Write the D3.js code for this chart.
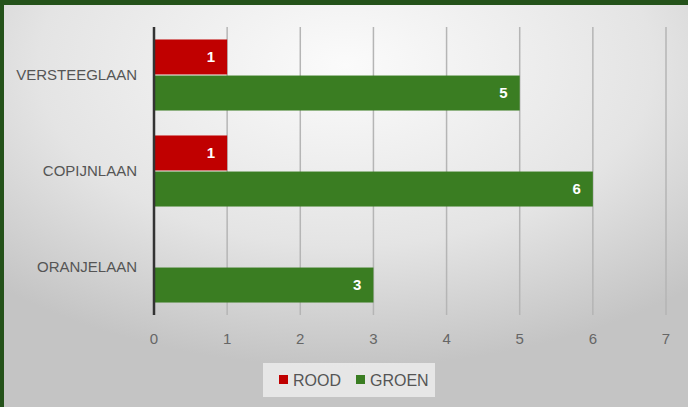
<!DOCTYPE html>
<html>
<head>
<meta charset="utf-8">
<script src="https://cdn.jsdelivr.net/npm/d3@7"></script>
<style>
  html, body { margin: 0; padding: 0; background: #24521a; }
  svg { display: block; }
  text { font-family: "Liberation Sans", Arial, sans-serif; }
</style>
</head>
<body>
<svg width="688" height="407"></svg>
<script>
// data
var streets = ["VERSTEEGLAAN", "COPIJNLAAN", "ORANJELAAN"];
var series = ["ROOD", "GROEN"];
var rood = [1, 1, 0];
var groen = [5, 6, 3];
var xTicks = [0, 1, 2, 3, 4, 5, 6, 7];
var colors = ["#c00000", "#3a7d22"];

var svg = d3.select("svg");
var W = 688, H = 407;

// background with soft vignette
var defs = svg.append("defs");
var grad = defs.append("radialGradient")
    .attr("id", "bg")
    .attr("cx", "50%").attr("cy", "15%").attr("r", "75%");
grad.append("stop").attr("offset", "0%").attr("stop-color", "#fbfbfb");
grad.append("stop").attr("offset", "60%").attr("stop-color", "#e4e4e4");
grad.append("stop").attr("offset", "100%").attr("stop-color", "#c4c4c4");

svg.append("rect").attr("width", W).attr("height", H).attr("fill", "#24521a");
svg.append("rect")
    .attr("x", 4).attr("y", 5)
    .attr("width", W - 4).attr("height", H - 5)
    .attr("fill", "url(#bg)");

var margin = {top: 27, right: 22, bottom: 92, left: 154};
var width = 666 - margin.left;
var height = 315 - margin.top;

var x = d3.scaleLinear().domain([0, 7]).range([0, width]);
var y0 = d3.scaleBand().domain(streets).range([0, height]).paddingInner(0.26).paddingOuter(0.13);
var y1 = d3.scaleBand().domain(series).range([0, y0.bandwidth()]).paddingInner(0.03);

var g = svg.append("g").attr("transform", "translate(" + margin.left + "," + margin.top + ")");

// gridlines
g.selectAll(".grid")
    .data(xTicks.slice(1))
    .enter().append("line")
    .attr("x1", function(d) { return x(d); })
    .attr("x2", function(d) { return x(d); })
    .attr("y1", 0)
    .attr("y2", height)
    .attr("stroke", "#b5b5b5")
    .attr("stroke-width", 1.5);

// bars
var rows = streets.map(function(s, i) {
    return {street: s, values: [rood[i], groen[i]]};
});

var group = g.selectAll(".grp")
    .data(rows)
    .enter().append("g")
    .attr("transform", function(d) { return "translate(0," + y0(d.street) + ")"; });

var bar = group.selectAll(".bar")
    .data(function(d) {
        return d.values.map(function(v, j) { return {key: series[j], value: v, color: colors[j]}; })
            .filter(function(e) { return e.value > 0; });
    })
    .enter().append("g");

bar.append("rect")
    .attr("x", 0)
    .attr("y", function(d) { return y1(d.key); })
    .attr("width", function(d) { return x(d.value); })
    .attr("height", y1.bandwidth())
    .attr("fill", function(d) { return d.color; });

bar.append("text")
    .attr("x", function(d) { return x(d.value) - 12; })
    .attr("y", function(d) { return y1(d.key) + y1.bandwidth() / 2; })
    .attr("dy", "0.36em")
    .attr("text-anchor", "end")
    .attr("fill", "#fff")
    .style("font-weight", "bold")
    .style("font-size", "15px")
    .text(function(d) { return d.value; });

// axis line at zero
g.append("line")
    .attr("x1", 0).attr("x2", 0)
    .attr("y1", 0).attr("y2", height)
    .attr("stroke", "#333")
    .attr("stroke-width", 2.5);

// x tick labels
g.selectAll(".xlab")
    .data(xTicks)
    .enter().append("text")
    .attr("x", function(d) { return x(d); })
    .attr("y", height + 24)
    .attr("dy", "0.36em")
    .attr("text-anchor", "middle")
    .attr("fill", "#666")
    .style("font-size", "15px")
    .text(function(d) { return d; });

// category labels
g.selectAll(".ylab")
    .data(streets)
    .enter().append("text")
    .attr("x", -17)
    .attr("y", function(d) { return y0(d) + y0.bandwidth() / 2; })
    .attr("dy", "0.36em")
    .attr("text-anchor", "end")
    .attr("fill", "#555")
    .style("font-size", "15px")
    .text(function(d) { return d; });

// legend
var legend = svg.append("g").attr("transform", "translate(263,363)");
legend.append("rect")
    .attr("width", 172).attr("height", 34)
    .attr("fill", "#ececec")
    .attr("opacity", 0.85);

var legX = [16, 93];
series.forEach(function(s, i) {
    legend.append("rect")
        .attr("x", legX[i]).attr("y", 12)
        .attr("width", 9).attr("height", 9)
        .attr("fill", colors[i]);
    legend.append("text")
        .attr("x", legX[i] + 14).attr("y", 17)
        .attr("dy", "0.36em")
        .attr("fill", "#555")
        .style("font-size", "16px")
        .text(s);
});
</script>
</body>
</html>
